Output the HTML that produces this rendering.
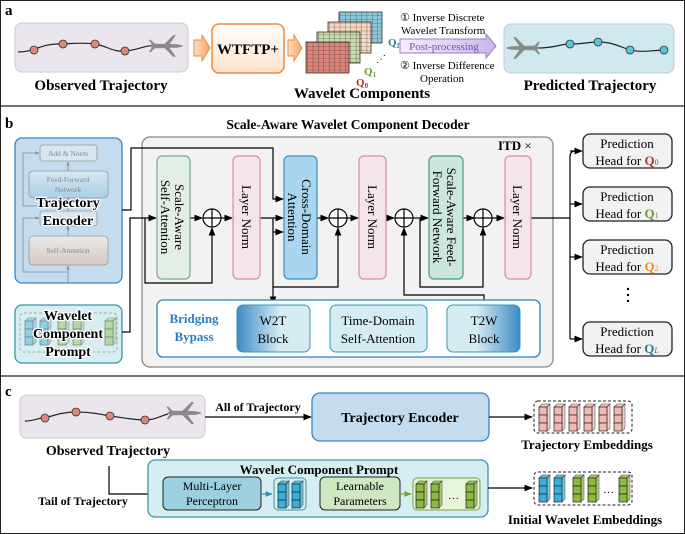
<!DOCTYPE html>
<html><head><meta charset="utf-8"><style>
html,body{margin:0;padding:0;background:#fff}
svg{display:block}
text{font-family:"Liberation Serif",serif}
.b{font-weight:bold}
</style></head><body>
<svg width="685" height="534" viewBox="0 0 685 534" xmlns="http://www.w3.org/2000/svg">
<defs>
<marker id="ar" viewBox="0 0 10 10" refX="9" refY="5" markerWidth="7" markerHeight="7" orient="auto"><path d="M0,1 L10,5 L0,9 z" fill="#000"/></marker>
<marker id="art" viewBox="0 0 10 10" refX="9" refY="5" markerWidth="6" markerHeight="6" orient="auto"><path d="M0,1 L10,5 L0,9 z" fill="#3b8fa8"/></marker>
<marker id="arg" viewBox="0 0 10 10" refX="9" refY="5" markerWidth="6" markerHeight="6" orient="auto"><path d="M0,1 L10,5 L0,9 z" fill="#7aa040"/></marker>
<marker id="arx" viewBox="0 0 10 10" refX="9" refY="5" markerWidth="5" markerHeight="5" orient="auto"><path d="M0,1 L10,5 L0,9 z" fill="#888"/></marker>
<pattern id="grid" width="5.4" height="3.9" patternUnits="userSpaceOnUse"><path d="M5.4,0 V3.9 M0,3.9 H5.4" stroke="#333" stroke-width="0.6" fill="none"/></pattern>
<symbol id="plane" viewBox="0 0 40 24" overflow="visible">
<path d="M2,12 Q4,9 10,9.5 L32,10 Q38,11 39,12 Q38,13 32,14 L10,14.5 Q4,15 2,12 z" fill="#8a8a8a"/>
<path d="M18,10 L28,0 L31,0 L24,10 z M18,14 L28,24 L31,24 L24,14 z M4,10 L1,5 L3,5 L8,10 z M4,14 L1,19 L3,19 L8,14z" fill="#8a8a8a"/>
</symbol>
<symbol id="col" overflow="visible">
<path d="M0,3 L3,0 L11,0 L8,3 z" fill="currentColor" stroke="#222" stroke-width="0.6" opacity="0.8"/>
<path d="M8,3 L11,0 L11,24 L8,27 z" fill="currentColor" stroke="#222" stroke-width="0.6" opacity="0.7"/>
<rect x="0" y="3" width="8" height="8" fill="currentColor" stroke="#222" stroke-width="0.7"/>
<rect x="0" y="11" width="8" height="8" fill="currentColor" stroke="#222" stroke-width="0.7"/>
<rect x="0" y="19" width="8" height="8" fill="currentColor" stroke="#222" stroke-width="0.7"/>
</symbol>
<linearGradient id="lgO" x1="0" y1="0" x2="0" y2="1"><stop offset="0" stop-color="#fff"/><stop offset="1" stop-color="#fde3cc"/></linearGradient>
<linearGradient id="lgA" x1="0" y1="0" x2="1" y2="0"><stop offset="0" stop-color="#fde0c4"/><stop offset="1" stop-color="#f5a566"/></linearGradient>
<linearGradient id="lgP" x1="0" y1="0" x2="1" y2="0"><stop offset="0" stop-color="#f3eefc"/><stop offset="1" stop-color="#c9b6ea"/></linearGradient>
<linearGradient id="lgW" x1="0" y1="0" x2="1" y2="0"><stop offset="0" stop-color="#3d8cc6"/><stop offset="0.6" stop-color="#d6ecf3"/></linearGradient>
<linearGradient id="lgT" x1="0" y1="0" x2="1" y2="0"><stop offset="0.4" stop-color="#d6ecf3"/><stop offset="1" stop-color="#3d8cc6"/></linearGradient>
<linearGradient id="lgE" x1="0" y1="0" x2="0" y2="1"><stop offset="0" stop-color="#d6e7f3"/><stop offset="1" stop-color="#a9cfe4"/></linearGradient>
<linearGradient id="lgS" x1="0" y1="0" x2="0" y2="1"><stop offset="0" stop-color="#e8e8ea"/><stop offset="1" stop-color="#d8c8c0"/></linearGradient>
</defs>

<!-- frame -->
<rect x="0.5" y="0.5" width="684" height="533" fill="none" stroke="#222" stroke-width="1"/>
<line x1="0" y1="106" x2="685" y2="106" stroke="#222" stroke-width="1.2"/>
<line x1="0" y1="376" x2="685" y2="376" stroke="#222" stroke-width="1.2"/>

<!-- ===== panel a ===== -->
<text x="5" y="15" class="b" font-size="15">a</text>
<rect x="15" y="23" width="173" height="49" rx="7" fill="#ebe6ee" stroke="#ccc"/>
<path d="M18,52 C35,52 40,44 58,44 C72,44 80,42 95,44 C110,47 112,52 125,51 C140,50 145,44 160,46" fill="none" stroke="#222" stroke-width="1.2"/>
<g fill="#e0877a" stroke="#333" stroke-width="0.8"><circle cx="34" cy="50" r="4"/><circle cx="63" cy="44" r="4"/><circle cx="95" cy="44" r="4"/><circle cx="125" cy="51" r="4"/></g>
<use href="#plane" x="148" y="35" width="36" height="22"/>
<text x="101" y="90" class="b" font-size="15" text-anchor="middle">Observed Trajectory</text>

<path d="M194,40 L202,40 L202,35 L210,48 L202,61 L202,56 L194,56 z" fill="url(#lgA)" stroke="#f08a3c" stroke-width="1"/>
<rect x="212" y="24" width="72" height="49" rx="7" fill="url(#lgO)" stroke="#f08a3c" stroke-width="1.5"/>
<text x="248" y="54" class="b" font-size="15" text-anchor="middle">WTFTP+</text>
<path d="M288,40 L294,40 L294,35 L302,48 L294,61 L294,56 L288,56 z" fill="url(#lgA)" stroke="#f08a3c" stroke-width="1"/>

<g>
<rect x="339" y="12" width="43" height="31" fill="#8cc8dc" stroke="#333" stroke-width="0.8"/><rect x="339" y="12" width="43" height="31" fill="url(#grid)"/>
<rect x="328" y="22" width="43" height="31" fill="#f8d8c0" stroke="#333" stroke-width="0.8"/><rect x="328" y="22" width="43" height="31" fill="url(#grid)"/>
<rect x="317" y="32" width="43" height="31" fill="#c8dca8" stroke="#333" stroke-width="0.8"/><rect x="317" y="32" width="43" height="31" fill="url(#grid)"/>
<rect x="306" y="42" width="43" height="31" fill="#e0847a" stroke="#333" stroke-width="0.8"/><rect x="306" y="42" width="43" height="31" fill="url(#grid)"/>
</g>
<text x="356" y="86" class="b" font-size="11" fill="#b03a2e">Q<tspan font-size="7" dy="2">0</tspan></text>
<text x="364" y="75" class="b" font-size="11" fill="#6a9a30">Q<tspan font-size="7" dy="2">1</tspan></text>
<text x="388" y="46" class="b" font-size="11" fill="#2f7a98">Q<tspan font-size="7" dy="2" font-style="italic">L</tspan></text>
<text x="376" y="62" font-size="10">⋰</text>
<text x="362" y="98" class="b" font-size="15" text-anchor="middle">Wavelet Components</text>

<text x="400" y="21" font-size="11">① Inverse Discrete</text>
<text x="401" y="34" font-size="11">Wavelet Transform</text>
<path d="M400,39 L486,39 L486,34 L496,46 L486,58 L486,53 L400,53 z" fill="url(#lgP)" stroke="#9b7cc8"/>
<text x="444" y="50" font-size="11" fill="#7a4fb0" text-anchor="middle">Post-processing</text>
<text x="400" y="69" font-size="11">② Inverse Difference</text>
<text x="420" y="82" font-size="11">Operation</text>

<rect x="504" y="24" width="170" height="49" rx="7" fill="#cfe9ee" stroke="#bcd"/>
<path d="M538,48 C555,48 560,44 570,44 C585,44 588,42 598,42 C612,42 618,46 630,50 C645,53 650,50 668,50" fill="none" stroke="#222" stroke-width="1.2"/>
<g fill="#5bc3d6" stroke="#333" stroke-width="0.8"><circle cx="570" cy="44" r="4"/><circle cx="598" cy="42" r="4"/><circle cx="630" cy="50" r="4"/><circle cx="664" cy="50" r="4"/></g>
<use href="#plane" x="505" y="37" width="36" height="22" transform="translate(1046,0) scale(-1,1)"/>
<text x="590" y="90" class="b" font-size="15" text-anchor="middle">Predicted Trajectory</text>

<!-- ===== panel b ===== -->
<text x="5" y="128" class="b" font-size="15">b</text>
<text x="348" y="129" class="b" font-size="13.5" text-anchor="middle">Scale-Aware Wavelet Component Decoder</text>

<!-- trajectory encoder -->
<rect x="15" y="138" width="107" height="145" rx="7" fill="#c4dcee" stroke="#3c84c0" stroke-width="1.3"/>
<g stroke="#888" stroke-width="0.8" fill="none">
<path d="M68,282 V266" marker-end="url(#arx)"/><path d="M68,236 V226" marker-end="url(#arx)"/><path d="M68,211 V198" marker-end="url(#arx)"/><path d="M68,171 V162" marker-end="url(#arx)"/>
<path d="M68,272 H23 V218 H39" marker-end="url(#arx)"/><path d="M68,206 H23 V153 H39" marker-end="url(#arx)"/>
</g>
<rect x="40" y="145" width="57" height="16" rx="3" fill="#d8e6f0" stroke="#999" stroke-width="0.8"/>
<text x="68" y="156" font-size="7.5" fill="#888" text-anchor="middle">Add &amp; Norm</text>
<rect x="29" y="171" width="79" height="27" rx="4" fill="url(#lgE)" stroke="#999" stroke-width="0.8"/>
<text x="68" y="182" font-size="7.5" fill="#888" text-anchor="middle">Feed-Forward</text>
<text x="68" y="192" font-size="7.5" fill="#888" text-anchor="middle">Network</text>
<rect x="40" y="211" width="57" height="15" rx="3" fill="#d8e6f0" stroke="#999" stroke-width="0.8"/>
<rect x="29" y="236" width="79" height="29" rx="4" fill="url(#lgS)" stroke="#999" stroke-width="0.8"/>
<text x="68" y="253" font-size="7.5" fill="#888" text-anchor="middle">Self-Attention</text>
<text x="68" y="207" class="b" font-size="14" text-anchor="middle" stroke="#fff" stroke-width="2.5" paint-order="stroke">Trajectory</text>
<text x="68" y="225" class="b" font-size="14" text-anchor="middle" stroke="#fff" stroke-width="2.5" paint-order="stroke">Encoder</text>

<!-- wavelet component prompt -->
<rect x="15" y="305" width="107" height="58" rx="7" fill="#d6eef2" stroke="#3a95a8" stroke-width="1.3"/>
<rect x="20" y="313" width="97" height="39" rx="4" fill="none" stroke="#aaa" stroke-dasharray="3,2"/>
<g opacity="0.55">
<use href="#col" x="25" y="318" style="color:#56b8d8"/><use href="#col" x="40" y="318" style="color:#56b8d8"/>
<use href="#col" x="58" y="318" style="color:#9cc860"/><use href="#col" x="73" y="318" style="color:#9cc860"/><use href="#col" x="105" y="318" style="color:#9cc860"/>
</g>
<text x="68" y="320" class="b" font-size="14" text-anchor="middle" stroke="#fff" stroke-width="2.5" paint-order="stroke">Wavelet</text>
<text x="68" y="338" class="b" font-size="14" text-anchor="middle" stroke="#fff" stroke-width="2.5" paint-order="stroke">Component</text>
<text x="68" y="356" class="b" font-size="14" text-anchor="middle" stroke="#fff" stroke-width="2.5" paint-order="stroke">Prompt</text>

<!-- decoder -->
<rect x="142" y="137" width="411" height="230" rx="8" fill="#f2f2f2" stroke="#888" stroke-width="1.3"/>
<text x="498" y="150" class="b" font-size="13">ITD <tspan font-weight="normal">×</tspan></text>

<g fill="none" stroke="#000" stroke-width="1.2">
<path d="M122,210 H131 V148 H273 V199 H283" marker-end="url(#ar)"/>
<path d="M273,218 H283" marker-end="url(#ar)"/>
<path d="M273,232 H283" marker-end="url(#ar)"/>
<path d="M122,332 H130 V218 H156" marker-end="url(#ar)"/>
<path d="M145,218 V283 H212 V228" marker-end="url(#ar)"/>
<path d="M190,218 H202" marker-end="url(#ar)"/>
<path d="M221,218 H232" marker-end="url(#ar)"/>
<path d="M260,218 H273 V304" marker-end="url(#ar)"/>
<path d="M273,287 H338 V228" marker-end="url(#ar)"/>
<path d="M317,218 H328" marker-end="url(#ar)"/>
<path d="M347,218 H358" marker-end="url(#ar)"/>
<path d="M386,218 H394" marker-end="url(#ar)"/>
<path d="M413,218 H428" marker-end="url(#ar)"/>
<path d="M420,218 V287 H483 V228" marker-end="url(#ar)"/>
<path d="M463,218 H474" marker-end="url(#ar)"/>
<path d="M492,218 H504" marker-end="url(#ar)"/>
<path d="M484,305 V295 H404 V228" marker-end="url(#ar)"/>
<path d="M531,218 H570"/>
<path d="M570,157 V339"/>
<path d="M570,151 H582" marker-end="url(#ar)"/>
<path d="M570,204 H582" marker-end="url(#ar)"/>
<path d="M570,257 H582" marker-end="url(#ar)"/>
<path d="M570,339 H582" marker-end="url(#ar)"/>
<path d="M570,157 Q570,151 575,151"/>
<path d="M310,328 H329" marker-end="url(#ar)"/>
<path d="M427,328 H446" marker-end="url(#ar)"/>
</g>
<g fill="#fff" stroke="#000" stroke-width="1.2">
<circle cx="212" cy="218" r="9"/><circle cx="338" cy="218" r="9"/><circle cx="404" cy="218" r="9"/><circle cx="483" cy="218" r="9"/>
</g>
<path d="M203,218 H221 M212,209 V227 M329,218 H347 M338,209 V227 M395,218 H413 M404,209 V227 M474,218 H492 M483,209 V227" stroke="#000" stroke-width="1.2"/>

<rect x="157" y="156" width="33" height="123" rx="5" fill="#e3efe6" stroke="#7aa88a" stroke-width="1.2"/>
<text transform="translate(175,217) rotate(90)" font-size="13" text-anchor="middle">Scale-Aware</text>
<text transform="translate(161,217) rotate(90)" font-size="13" text-anchor="middle">Self-Attention</text>
<rect x="233" y="156" width="27" height="123" rx="5" fill="#f6e4ec" stroke="#e08a98" stroke-width="1.2"/>
<text transform="translate(242,217) rotate(90)" font-size="13" text-anchor="middle">Layer Norm</text>
<rect x="284" y="156" width="33" height="123" rx="5" fill="#a9d6ee" stroke="#3c8cc4" stroke-width="1.2"/>
<text transform="translate(302,217) rotate(90)" font-size="13" text-anchor="middle">Cross-Domain</text>
<text transform="translate(288,217) rotate(90)" font-size="13" text-anchor="middle">Attention</text>
<rect x="359" y="156" width="27" height="123" rx="5" fill="#f6e4ec" stroke="#e08a98" stroke-width="1.2"/>
<text transform="translate(368,217) rotate(90)" font-size="13" text-anchor="middle">Layer Norm</text>
<rect x="429" y="156" width="34" height="123" rx="5" fill="#cde6dc" stroke="#4a9a7a" stroke-width="1.2"/>
<text transform="translate(447,217) rotate(90)" font-size="13" text-anchor="middle">Scale-Aware Feed-</text>
<text transform="translate(433,217) rotate(90)" font-size="13" text-anchor="middle">Forward Network</text>
<rect x="505" y="156" width="26" height="123" rx="5" fill="#f6e4ec" stroke="#e08a98" stroke-width="1.2"/>
<text transform="translate(513,217) rotate(90)" font-size="13" text-anchor="middle">Layer Norm</text>

<!-- bridging bypass -->
<rect x="157" y="300" width="383" height="57" rx="6" fill="#fff" stroke="#2a7fc4" stroke-width="1.3"/>
<text x="194" y="323" class="b" font-size="13" fill="#2a7fc4" text-anchor="middle">Bridging</text>
<text x="194" y="341" class="b" font-size="13" fill="#2a7fc4" text-anchor="middle">Bypass</text>
<rect x="237" y="305" width="73" height="47" rx="6" fill="url(#lgW)" stroke="#3a95a8"/>
<text x="273" y="325" font-size="13" text-anchor="middle">W2T</text>
<text x="273" y="343" font-size="13" text-anchor="middle">Block</text>
<rect x="330" y="305" width="97" height="47" rx="6" fill="#d6ecf3" stroke="#3a95a8"/>
<text x="378" y="325" font-size="13" text-anchor="middle">Time-Domain</text>
<text x="378" y="343" font-size="13" text-anchor="middle">Self-Attention</text>
<rect x="447" y="305" width="73" height="47" rx="6" fill="url(#lgT)" stroke="#3a95a8"/>
<text x="484" y="325" font-size="13" text-anchor="middle">T2W</text>
<text x="484" y="343" font-size="13" text-anchor="middle">Block</text>

<!-- prediction heads -->
<g fill="#f2f2f2" stroke="#222" stroke-width="1.3">
<rect x="583" y="134" width="89" height="34" rx="7"/><rect x="583" y="187" width="89" height="34" rx="7"/>
<rect x="583" y="240" width="89" height="34" rx="7"/><rect x="583" y="322" width="89" height="34" rx="7"/>
</g>
<g font-size="13" text-anchor="middle">
<text x="627" y="148">Prediction</text><text x="627" y="165">Head for <tspan class="b" fill="#b03a2e">Q</tspan><tspan font-size="8" fill="#b03a2e">0</tspan></text>
<text x="627" y="201">Prediction</text><text x="627" y="218">Head for <tspan class="b" fill="#6a9a30">Q</tspan><tspan font-size="8" fill="#6a9a30">1</tspan></text>
<text x="627" y="254">Prediction</text><text x="627" y="271">Head for <tspan class="b" fill="#f08a1c">Q</tspan><tspan font-size="8" fill="#f08a1c">2</tspan></text>
<text x="627" y="336">Prediction</text><text x="627" y="353">Head for <tspan class="b" fill="#2f7a98">Q</tspan><tspan font-size="8" font-style="italic" fill="#2f7a98">L</tspan></text>
</g>
<g fill="#000"><circle cx="628" cy="289" r="1.2"/><circle cx="628" cy="295" r="1.2"/><circle cx="628" cy="301" r="1.2"/></g>

<!-- ===== panel c ===== -->
<text x="5" y="396" class="b" font-size="15">c</text>
<rect x="20" y="395" width="185" height="43" rx="6" fill="#ebe6ee" stroke="#ccc"/>
<path d="M25,421 C35,421 40,417 45,418 C58,414 65,412 76,412 C90,412 100,414 110,416 C125,418 135,420 145,420 C155,420 160,416 168,414" fill="none" stroke="#222" stroke-width="1.2"/>
<g fill="#e0877a" stroke="#333" stroke-width="0.8"><circle cx="45" cy="418" r="4"/><circle cx="76" cy="412" r="4"/><circle cx="110" cy="416" r="4"/><circle cx="145" cy="420" r="4"/></g>
<use href="#plane" x="165" y="402" width="38" height="22"/>
<text x="108" y="455" class="b" font-size="14" text-anchor="middle">Observed Trajectory</text>

<path d="M205,417 H311" fill="none" stroke="#000" stroke-width="1.2" marker-end="url(#ar)"/>
<text x="258" y="411" class="b" font-size="12" text-anchor="middle">All of Trajectory</text>
<rect x="312" y="393" width="177" height="48" rx="8" fill="#c4dcee" stroke="#3c84c0" stroke-width="1.3"/>
<text x="400" y="422" class="b" font-size="14" text-anchor="middle">Trajectory Encoder</text>
<path d="M489,417 H532" fill="none" stroke="#000" stroke-width="1.2" marker-end="url(#ar)"/>
<rect x="534" y="401" width="98" height="32" rx="4" fill="none" stroke="#222" stroke-dasharray="3,2"/>
<g style="color:#f2b8b4"><use href="#col" x="539" y="404"/><use href="#col" x="554" y="404"/><use href="#col" x="569" y="404"/><use href="#col" x="584" y="404"/><use href="#col" x="599" y="404"/><use href="#col" x="614" y="404"/></g>
<text x="587" y="449" class="b" font-size="13" text-anchor="middle">Trajectory Embeddings</text>

<path d="M109,466 V494 H161" fill="none" stroke="#000" stroke-width="1.2" marker-end="url(#ar)"/>
<text x="83" y="505" class="b" font-size="12" text-anchor="middle">Tail of Trajectory</text>
<rect x="148" y="460" width="340" height="57" rx="7" fill="#d6eef2" stroke="#3a95a8" stroke-width="1.3"/>
<text x="319" y="474" class="b" font-size="13" text-anchor="middle">Wavelet Component Prompt</text>
<rect x="163" y="477" width="98" height="33" rx="5" fill="#9ccfe0" stroke="#222" stroke-width="1"/>
<text x="212" y="490" font-size="12" text-anchor="middle">Multi-Layer</text>
<text x="212" y="505" font-size="12" text-anchor="middle">Perceptron</text>
<path d="M261,494 H272" stroke="#3b8fa8" stroke-width="1.2" marker-end="url(#art)"/>
<rect x="274" y="478" width="32" height="32" rx="4" fill="#d6eef2" stroke="#3a95a8"/>
<g style="color:#3ab0d8"><use href="#col" x="278" y="481"/><use href="#col" x="292" y="481"/></g>
<rect x="320" y="477" width="80" height="33" rx="5" fill="#cfe8c4" stroke="#222" stroke-width="1"/>
<text x="360" y="490" font-size="12" text-anchor="middle">Learnable</text>
<text x="360" y="505" font-size="12" text-anchor="middle">Parameters</text>
<path d="M400,494 H411" stroke="#7aa040" stroke-width="1.2" marker-end="url(#arg)"/>
<rect x="413" y="478" width="67" height="32" rx="4" fill="#e8f3dc" stroke="#7aa040"/>
<g style="color:#8cba3c"><use href="#col" x="416" y="481"/><use href="#col" x="431" y="481"/><use href="#col" x="466" y="481"/></g>
<text x="448" y="502" font-size="11">···</text>
<path d="M488,488 H532" fill="none" stroke="#000" stroke-width="1.2" marker-end="url(#ar)"/>
<rect x="534" y="472" width="98" height="33" rx="4" fill="none" stroke="#222" stroke-dasharray="3,2"/>
<g><use href="#col" x="539" y="475" style="color:#3ab0d8"/><use href="#col" x="554" y="475" style="color:#3ab0d8"/><use href="#col" x="573" y="475" style="color:#8cba3c"/><use href="#col" x="588" y="475" style="color:#8cba3c"/><use href="#col" x="619" y="475" style="color:#8cba3c"/></g>
<text x="603" y="496" font-size="11">···</text>
<text x="585" y="524" class="b" font-size="13" text-anchor="middle">Initial Wavelet Embeddings</text>
</svg>
</body></html>
